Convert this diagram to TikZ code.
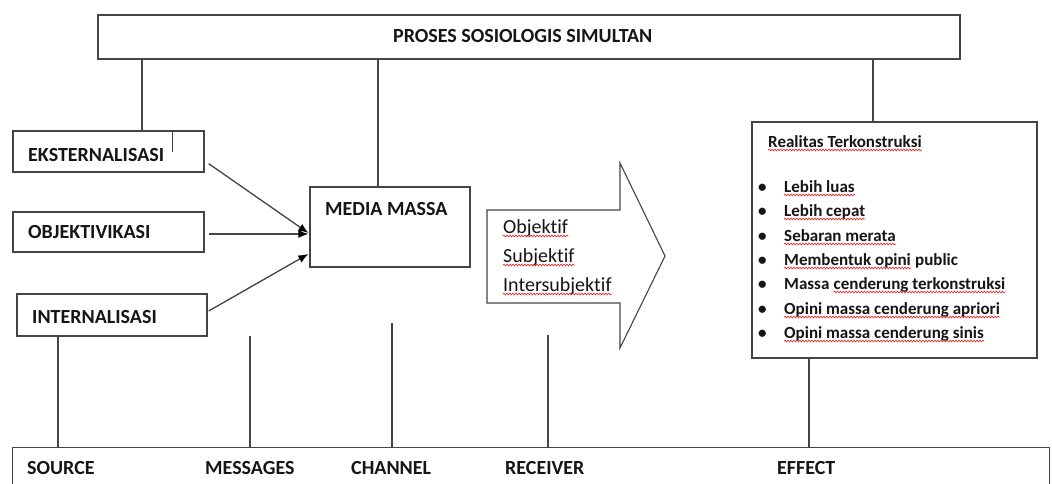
\documentclass[tikz,border=0pt]{standalone}
\usepackage{fontspec}
\setmainfont{Carlito}[Ligatures=NoCommon]
\usetikzlibrary{arrows.meta,decorations.pathmorphing}
\definecolor{ln}{HTML}{444444}
\definecolor{txt}{HTML}{151515}
\definecolor{spellred}{HTML}{E03535}
\begin{document}
\begin{tikzpicture}[x=1pt,y=-1pt,
  box/.style={draw=ln, line width=1.3pt, inner sep=0pt},
  ln/.style={draw=ln, line width=1.3pt},
  captxt/.style={font=\fontsize{20}{24}\selectfont\bfseries, inner sep=0pt, anchor=base west, text=txt},
  itemtxt/.style={font=\fontsize{17}{20}\selectfont\bfseries, inner sep=0pt, anchor=base west, text=txt},
  regtxt/.style={font=\fontsize{20}{24}\selectfont, inner sep=0pt, anchor=base west, text=txt},
  arr/.style={ln, -{Latex[length=10pt,width=8pt,color=black]}},
  spell/.style={draw=spellred, line width=0.7pt, decorate, decoration={snake, amplitude=0.9pt, segment length=3pt}},
]
\clip (0,0) rectangle (1052,484);
\fill[white] (0,0) rectangle (1052,484);

% boxes
\node[box, minimum width=862pt, minimum height=44pt] (top) at (529,37) {};
\node[box, minimum width=191pt, minimum height=41pt] (ekst) at (108.5,151.5) {};
\node[box, minimum width=191pt, minimum height=40pt] (obj) at (108.5,232) {};
\node[box, minimum width=190pt, minimum height=42pt] (intern) at (112,315) {};
\node[box, minimum width=160pt, minimum height=80pt] (media) at (390,227) {};
\node[box, minimum width=285pt, minimum height=236pt] (real) at (894.5,240) {};
\node[box, minimum width=1037pt, minimum height=60pt, anchor=north west] (bottom) at (12,447) {};

% texts
\node[captxt] (tTop) at (393,43) {PROSES SOSIOLOGIS SIMULTAN};
\node[captxt] (tEkst) at (28,161) {EKSTERNALISASI};
\node[captxt] (tObj) at (28,238) {OBJEKTIVIKASI};
\node[captxt] (tInt) at (32,323) {INTERNALISASI};
\node[captxt] (tMedia) at (325,215) {MEDIA MASSA};
\node[captxt] (tSrc) at (27,474) {SOURCE};
\node[captxt] (tMsg) at (205,474) {MESSAGES};
\node[captxt] (tCh) at (351,474) {CHANNEL};
\node[captxt] (tRc) at (505,474) {RECEIVER};
\node[captxt] (tEf) at (777,474) {EFFECT};

% block arrow
\draw[draw=ln, line width=1.1pt, line join=miter] (487,210) -- (620,210) -- (620,163) -- (665,256) -- (620,348) -- (620,303) -- (487,303) -- cycle;
\node[regtxt] (o1) at (503,233) {Objektif};
\node[regtxt] (o2) at (503,262) {Subjektif};
\node[regtxt] (o3) at (503,291) {Intersubjektif};

% realitas list
\node[itemtxt] (rt) at (768,147) {Realitas Terkonstruksi};
\node[itemtxt] (b1) at (758,192) {\textbullet};
\node[itemtxt] (b2) at (758,216) {\textbullet};
\node[itemtxt] (b3) at (758,241) {\textbullet};
\node[itemtxt] (b4) at (758,265) {\textbullet};
\node[itemtxt] (b5) at (758,289) {\textbullet};
\node[itemtxt] (b6) at (758,314) {\textbullet};
\node[itemtxt] (b7) at (758,338) {\textbullet};
\node[itemtxt] (r1) at (784,192) {Lebih luas};
\node[itemtxt] (r2) at (784,216) {Lebih cepat};
\node[itemtxt] (r3) at (784,241) {Sebaran merata};
\node[itemtxt] (r4) at (784,265) {Membentuk opini};
\node[itemtxt, xshift=3.9pt] (r4b) at (r4.base east) {public};
\node[itemtxt] (r5a) at (784,289) {Massa};
\node[itemtxt, xshift=3.9pt] (r5) at (r5a.base east) {cenderung terkonstruksi};
\node[itemtxt] (r6) at (784,314) {Opini massa cenderung apriori};
\node[itemtxt] (r7) at (784,338) {Opini massa cenderung sinis};

% spell-check underlines
\foreach \n in {o1,o2,o3,rt,r1,r2,r3,r4,r5,r6,r7}{
  \draw[spell] ([yshift=-3pt]\n.base west) -- ([yshift=-3pt]\n.base east);
}

% connector x positions
\coordinate (xA) at (142,0);
\coordinate (xB) at (378,0);
\coordinate (xC) at (873,0);
\coordinate (xT) at (172,0);
\coordinate (xS) at (58,0);
\coordinate (xE) at (809,0);
\coordinate (mTop) at (250,336);
\coordinate (cTop) at (392,323);
\coordinate (rTop) at (548,335);

\draw[ln] (top.south -| xA) -- (ekst.north -| xA);
\draw[ln] (top.south -| xB) -- (media.north -| xB);
\draw[ln] (top.south -| xC) -- (real.north -| xC);
\draw[ln, line width=1pt] (ekst.north -| xT) -- ++(0,22);
\draw[ln] (intern.south -| xS) -- (bottom.north -| xS);
\draw[ln] (mTop) -- (bottom.north -| mTop);
\draw[ln] (cTop) -- (bottom.north -| cTop);
\draw[ln] (rTop) -- (bottom.north -| rTop);
\draw[ln] (real.south -| xE) -- (bottom.north -| xE);

% arrows into media massa
\draw[arr] ([shift={(4pt,9pt)}]ekst.south east) -- ([shift={(-1pt,-6pt)}]media.west);
\draw[arr] ([shift={(4pt,-2pt)}]obj.east) -- ([shift={(-1pt,-7pt)}]media.west);
\draw[arr] ([shift={(1pt,4pt)}]intern.east) -- ([shift={(-1pt,-27pt)}]media.west);
\end{tikzpicture}
\end{document}
